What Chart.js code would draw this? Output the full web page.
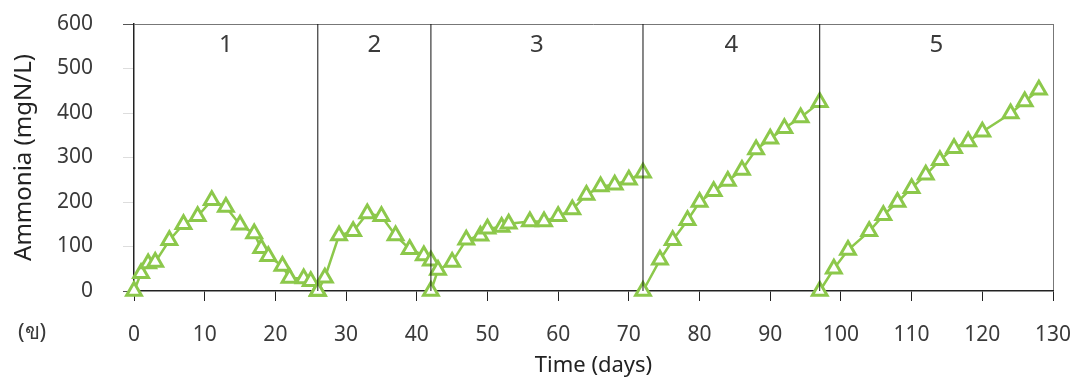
<!DOCTYPE html>
<html>
<head>
<meta charset="utf-8">
<script src="https://cdn.jsdelivr.net/npm/chart.js@4"></script>
<style>
  body { margin: 0; background: #fff; }
  #wrap { width: 1086px; height: 383px; }
</style>
</head>
<body>
<div id="wrap"><canvas id="myChart" width="1086" height="383"></canvas></div>
<script>
// sampling days and ammonia readings (mgN/L); each phase restarts at 0
let days = [0, 1, 2, 3, 5, 7, 9, 11, 13, 15, 17, 18, 19, 21, 22, 24, 25, 26,
  26, 27, 29, 31, 33, 35, 37, 39, 41, 42,
  42, 43, 45, 47, 49, 50, 52, 53, 56, 58, 60, 62, 64, 66, 68, 70, 72,
  72, 74.4, 76.2, 78.3, 80, 82, 84, 86, 88, 90, 92, 94.3, 97,
  97, 99, 101, 104, 106, 108, 110, 112, 114, 116, 118, 120, 124, 126, 128];
let ammonia = [0, 40, 62, 65, 114, 150, 168, 204, 189, 149, 129, 96, 78, 56, 29, 28, 22, 0,
  0, 30, 125, 134, 174, 168, 125, 94, 80, 68,
  0, 47, 65, 115, 124, 140, 144, 151, 156, 156, 168, 183, 216, 235, 239, 250, 266,
  0, 70, 114, 159, 200, 224, 247, 272, 318, 342, 366, 390, 424,
  0, 50, 92, 134, 170, 200, 231, 261, 294, 321, 336, 358, 399, 426, 452];
let phaseBounds = [0, 26, 42, 72, 97, 130];
let phaseLabels = ["1", "2", "3", "4", "5"];
let xTicks = [0, 10, 20, 30, 40, 50, 60, 70, 80, 90, 100, 110, 120, 130];
let yTicks = [0, 100, 200, 300, 400, 500, 600];

let green = "#8cc84b";
let textColor = "#3a3a3a";
let font = "'Noto Sans', 'DejaVu Sans', sans-serif";

let points = days.map((d, i) => ({ x: d, y: ammonia[i] }));

// black separators between phases
let separators = phaseBounds.slice(1, -1).map((b) => ({
  type: "line",
  data: [{ x: b, y: 0 }, { x: b, y: yTicks[yTicks.length - 1] }],
  borderColor: "#111",
  borderWidth: 1,
  pointRadius: 0,
  order: 0,
}));

let phaseText = {
  id: "phaseText",
  afterDraw(chart) {
    let ctx = chart.ctx;
    let xs = chart.scales.x;
    ctx.save();
    ctx.fillStyle = textColor;
    ctx.font = "24px " + font;
    ctx.textAlign = "center";
    ctx.textBaseline = "middle";
    phaseLabels.forEach((lab, i) => {
      let mid = (phaseBounds[i] + phaseBounds[i + 1]) / 2;
      ctx.fillText(lab, xs.getPixelForValue(mid), 45);
    });
    ctx.font = "22px " + font;
    ctx.fillText("(ข)", 32, 333);
    ctx.restore();
  },
};

let ctx = document.getElementById("myChart").getContext("2d");
let myChart = new Chart(ctx, {
  type: "line",
  data: {
    datasets: [
      {
        label: "Ammonia",
        data: points,
        borderColor: green,
        borderWidth: 2.5,
        segment: {
          // the restart drop sits under the phase separator
          borderColor: (c) => (c.p0.parsed.x === c.p1.parsed.x ? "transparent" : green),
        },
        pointStyle: "triangle",
        pointRadius: 8.5,
        pointBorderWidth: 3,
        pointBorderColor: green,
        pointBackgroundColor: "#fff",
        clip: false,
        order: 1,
      },
      ...separators,
    ],
  },
  options: {
    responsive: false,
    animation: false,
    layout: { padding: { top: 24, right: 33 }, autoPadding: false },
    plugins: { legend: { display: false }, tooltip: { enabled: false } },
    scales: {
      x: {
        type: "linear",
        min: 0,
        max: 130,
        afterBuildTicks: (s) => { s.ticks = xTicks.map((v) => ({ value: v })); },
        afterFit: (s) => { s.height = 92; s.paddingLeft = 0; s.paddingRight = 0; },
        grid: {
          color: (c) => (c.tick && c.tick.value === 130 ? "#777" : "transparent"),
          tickColor: "#222",
          tickLength: 10,
        },
        border: { color: "#222", width: 1.5 },
        ticks: { color: textColor, font: { family: font, size: 21 }, padding: 21 },
        title: {
          display: true,
          text: "Time (days)",
          color: "#222",
          font: { family: font, size: 22 },
          padding: { top: 0, bottom: 4 },
        },
      },
      y: {
        min: 0,
        max: 600,
        afterBuildTicks: (s) => { s.ticks = yTicks.map((v) => ({ value: v })); },
        afterFit: (s) => { s.width = 134; s.paddingTop = 0; s.paddingBottom = 0; },
        grid: {
          color: (c) => (c.tick && c.tick.value === 600 ? "#777" : "transparent"),
          tickColor: (c) => (c.tick && (c.tick.value === 0 || c.tick.value === 600) ? "#555" : "#ddd"),
          tickLength: 11,
        },
        border: { color: "#222", width: 1.5 },
        ticks: { color: textColor, font: { family: font, size: 21 }, padding: 30 },
        title: {
          display: true,
          text: "Ammonia (mgN/L)",
          color: "#222",
          font: { family: font, size: 24 },
          padding: { top: 10, bottom: 0 },
        },
      },
    },
  },
  plugins: [phaseText],
});
</script>
</body>
</html>
